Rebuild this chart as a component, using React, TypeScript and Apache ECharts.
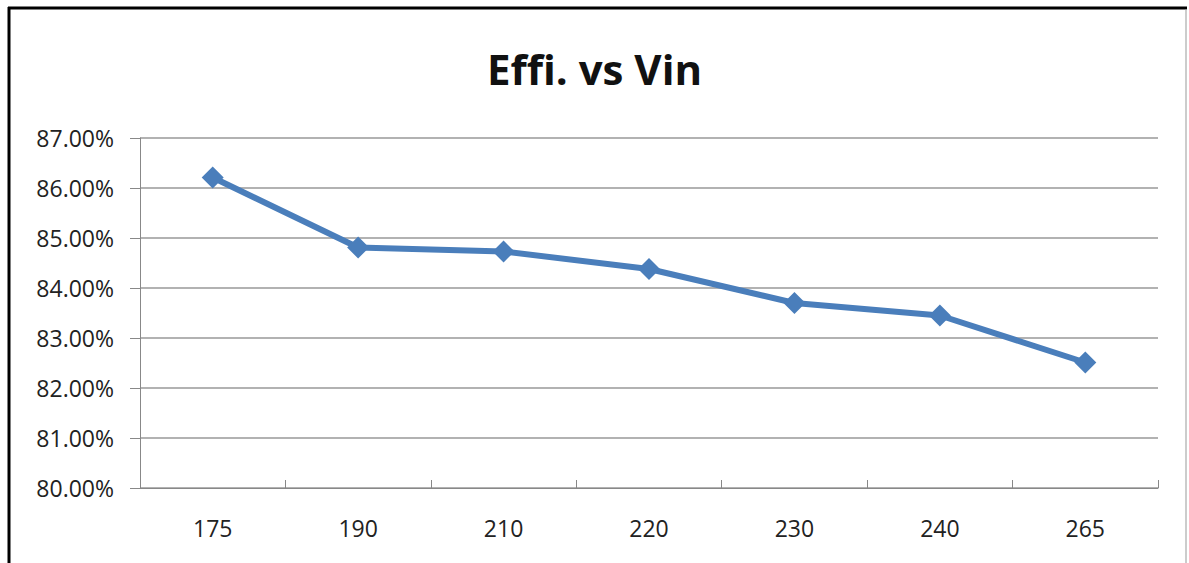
import React, { useEffect, useRef } from "react";
import * as echarts from "echarts";

const categories = ["175", "190", "210", "220", "230", "240", "265"];
const efficiency = [0.8621, 0.8481, 0.8473, 0.8438, 0.837, 0.8345, 0.8251];
const yMin = 0.8;
const yMax = 0.87;
const yStep = 0.01;

export default function App() {
  const ref = useRef<HTMLDivElement>(null);
  useEffect(() => {
    if (!ref.current) return;
    const chart = echarts.init(ref.current, undefined, { renderer: "svg" });
    const font = "'Open Sans', 'Liberation Sans', sans-serif";
    chart.setOption({
      animation: false,
      backgroundColor: "#ffffff",
      title: {
        text: "Effi. vs Vin",
        left: "center",
        top: 42,
        textStyle: { fontFamily: font, fontSize: 42, fontWeight: "bold", color: "#111" },
      },
      grid: { left: 140, right: 31, top: 138, bottom: 75 },
      xAxis: {
        type: "category",
        data: categories,
        boundaryGap: true,
        axisLine: { lineStyle: { color: "#888", width: 1 } },
        axisTick: { show: true, inside: true, length: 8, lineStyle: { color: "#888" } },
        axisLabel: { fontFamily: font, fontSize: 23, color: "#222", margin: 28 },
        splitLine: { show: false },
      },
      yAxis: {
        type: "value",
        min: yMin,
        max: yMax,
        interval: yStep,
        axisLine: { show: true, lineStyle: { color: "#888", width: 1 } },
        axisTick: { show: true, length: 10, lineStyle: { color: "#888" } },
        axisLabel: {
          fontFamily: font,
          fontSize: 23,
          color: "#222",
          margin: 26,
          formatter: (v: number) => (v * 100).toFixed(2) + "%",
        },
        splitLine: { show: true, lineStyle: { color: "#999", width: 1.5 } },
      },
      series: [
        {
          type: "line",
          data: efficiency,
          symbol: "diamond",
          symbolSize: 22,
          lineStyle: { color: "#4a7ebb", width: 6 },
          itemStyle: { color: "#4a7ebb" },
        },
      ],
      graphic: [
        { type: "line", shape: { x1: 9, y1: 7, x2: 9, y2: 563 }, style: { stroke: "#000", lineWidth: 3 } },
        { type: "line", shape: { x1: 8, y1: 8, x2: 1187, y2: 8 }, style: { stroke: "#000", lineWidth: 3 } },
        { type: "line", shape: { x1: 1186, y1: 9, x2: 1186, y2: 563 }, style: { stroke: "#999", lineWidth: 1 } },
      ],
    });
    return () => chart.dispose();
  }, []);
  return (
    <div
      ref={ref}
      style={{ position: "fixed", left: 0, top: 0, width: 1189, height: 563 }}
    />
  );
}
